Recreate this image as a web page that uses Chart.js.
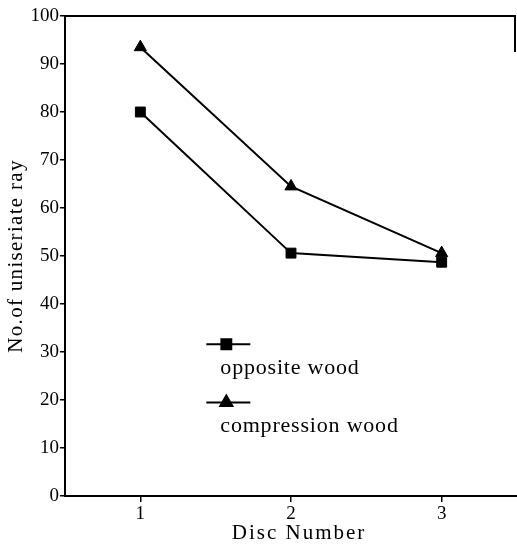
<!DOCTYPE html>
<html>
<head>
<meta charset="utf-8">
<script src="https://cdn.jsdelivr.net/npm/chart.js@4/dist/chart.umd.min.js"></script>
<style>
  html, body { margin: 0; padding: 0; background: #fff; overflow: hidden; }
  #rayChart { display: block; }
</style>
</head>
<body>
<canvas id="rayChart" width="517" height="551"></canvas>
<script>
let discs = ['1', '2', '3'];
let oppositeWood = [80, 50.6, 48.7];
let compressionWood = [93.5, 64.5, 50.6];
let yTicks = [0, 10, 20, 30, 40, 50, 60, 70, 80, 90, 100];

let xTitle = 'Disc Number';
let yTitle = 'No.of uniseriate ray';

let serif = '"Liberation Serif", "DejaVu Serif", serif';

// frame on top, axis titles (spaced type) and the in-plot legend
let framePlugin = {
    id : 'frame',
    afterDraw(chart) {
        let ctx = chart.ctx;
        let a = chart.chartArea;
        let xs = chart.scales.x;
        let ys = chart.scales.y;
        ctx.save();
        ctx.strokeStyle = '#000';
        ctx.lineWidth = 2;
        ctx.beginPath();
        ctx.moveTo(a.left, a.top);
        ctx.lineTo(chart.width - 2, a.top);
        ctx.lineTo(chart.width - 2, a.top + 36);
        ctx.stroke();

        ctx.fillStyle = '#000';
        ctx.textBaseline = 'alphabetic';
        ctx.textAlign = 'center';

        // x title
        ctx.font = '21px ' + serif;
        ctx.letterSpacing = '2px';
        ctx.fillText(xTitle, xs.getPixelForValue(1) + 8, chart.height - 12);

        // y title
        ctx.save();
        ctx.translate(22, ys.getPixelForValue(50));
        ctx.rotate(-Math.PI / 2);
        ctx.letterSpacing = '1.3px';
        ctx.fillText(yTitle, 0, 0);
        ctx.restore();

        // legend
        let items = [
            {label : 'opposite wood', style : 'rect', at : 31.6},
            {label : 'compression wood', style : 'triangle', at : 19.5}
        ];
        let cx = xs.getPixelForValue(0) + 86;
        items.forEach(function (it) {
            let y = ys.getPixelForValue(it.at);
            ctx.strokeStyle = '#000';
            ctx.lineWidth = 2;
            ctx.beginPath();
            ctx.moveTo(cx - 20, y);
            ctx.lineTo(cx + 24, y);
            ctx.stroke();
            ctx.fillStyle = '#000';
            Chart.helpers.drawPoint(ctx, {pointStyle : it.style, radius : 7, rotation : 0, borderWidth : 1}, cx, y);
            ctx.fillStyle = '#000';
            ctx.font = '22px ' + serif;
            ctx.letterSpacing = '0.8px';
            ctx.textAlign = 'left';
            ctx.fillText(it.label, cx - 6, y + 30);
        });
        ctx.restore();
    }
};

let config = {
    type : 'line',
    data : {
        labels : discs,
        datasets : [{
            label : 'opposite wood',
            data : oppositeWood,
            borderColor : '#000',
            backgroundColor : '#000',
            borderWidth : 2,
            pointStyle : 'rect',
            pointRadius : 7,
            pointBorderWidth : 1,
            tension : 0
        }, {
            label : 'compression wood',
            data : compressionWood,
            borderColor : '#000',
            backgroundColor : '#000',
            borderWidth : 2,
            pointStyle : 'triangle',
            pointRadius : 7,
            pointBorderWidth : 1,
            tension : 0
        }]
    },
    plugins : [framePlugin],
    options : {
        responsive : false,
        animation : false,
        layout : {autoPadding : false, padding : {top : 16, right : 0, left : 0, bottom : 0}},
        plugins : {
            legend : {display : false},
            tooltip : {enabled : false}
        },
        scales : {
            x : {
                type : 'category',
                offset : true,
                afterFit(scale) {
                    scale.height = 55;
                    scale.paddingLeft = 0;
                    scale.paddingRight = 0;
                },
                border : {display : true, color : '#000', width : 2},
                grid : {drawOnChartArea : false, drawTicks : true, tickLength : 6, color : '#000', lineWidth : 1.5, offset : false},
                ticks : {color : '#000', padding : 1, font : {family : serif, size : 19}},
                title : {display : false}
            },
            y : {
                min : 0,
                max : 100,
                afterFit(scale) { scale.width = 65; },
                afterBuildTicks(scale) { scale.ticks = yTicks.map(v => ({value : v})); },
                border : {display : true, color : '#000', width : 2},
                grid : {drawOnChartArea : false, drawTicks : true, tickLength : 5, color : '#000', lineWidth : 1.5},
                ticks : {color : '#000', padding : 1, font : {family : serif, size : 19}},
                title : {display : false}
            }
        }
    }
};

let chart = new Chart(document.getElementById('rayChart').getContext('2d'), config);
</script>
</body>
</html>
